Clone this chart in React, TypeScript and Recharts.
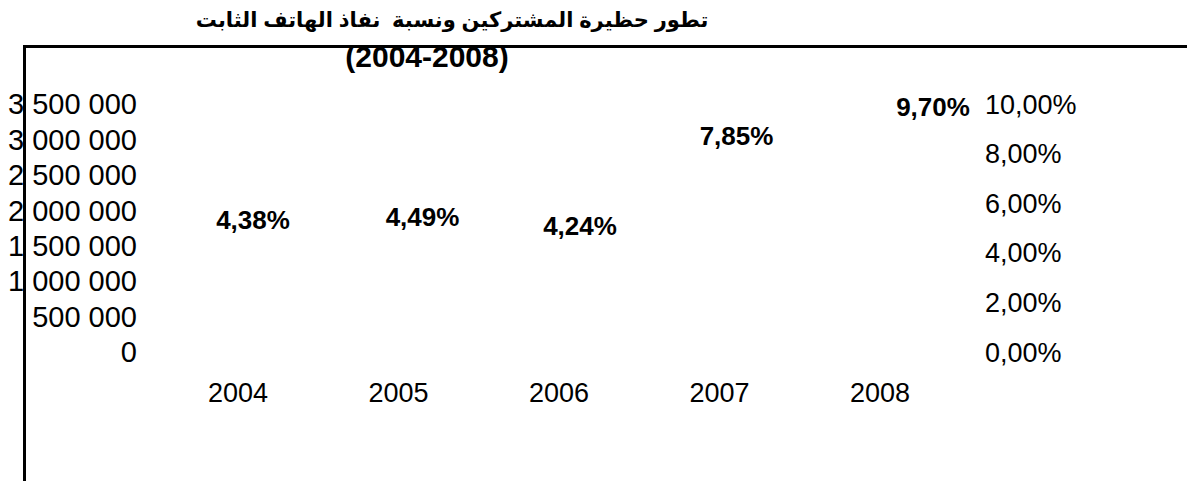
import React from 'react';
import { LineChart, Line, XAxis, YAxis, LabelList } from 'recharts';

const years = ['2004', '2005', '2006', '2007', '2008'];
const penetration = [4.38, 4.49, 4.24, 7.85, 9.7];
const subscriberTicks = [0, 500000, 1000000, 1500000, 2000000, 2500000, 3000000, 3500000];
const percentTicks = [0, 2, 4, 6, 8, 10];
const titleLine1 = 'تطور حظيرة المشتركين ونسبة  نفاذ الهاتف الثابت';
const titleLine2 = '(2004-2008)';

// label nudges (style only), relative to each computed point
const labelNudges = [
  { dx: 15, dy: -23 },
  { dx: 24, dy: -24 },
  { dx: 21, dy: -21 },
  { dx: 17, dy: -21 },
  { dx: 53, dy: -4 },
];

const data = years.map((y, i) => ({ year: y, pen: penetration[i] }));

const FONT = '"Liberation Sans", Arial, "DejaVu Sans", sans-serif';

const fmtSubs = (n: number) => String(n).replace(/\B(?=(\d{3})+(?!\d))/g, ' ');
const fmtPct = (v: number) => v.toFixed(2).replace('.', ',') + '%';

const renderLabel = (props: any) => {
  const { x, y, index, value } = props;
  const n = labelNudges[index] || { dx: 0, dy: -20 };
  return (
    <text
      x={x + n.dx}
      y={y + n.dy}
      textAnchor="middle"
      dominantBaseline="central"
      fontFamily={FONT}
      fontWeight="bold"
      fontSize={26}
      fill="#000"
    >
      {fmtPct(Number(value))}
    </text>
  );
};

export default function App() {
  return (
    <div
      style={{
        position: 'absolute',
        left: 0,
        top: 0,
        width: 1187,
        height: 481,
        overflow: 'hidden',
        background: '#fff',
        fontFamily: FONT,
      }}
    >
      <LineChart
        width={1187}
        height={481}
        data={data}
        margin={{ top: 104, right: 0, bottom: 89, left: 0 }}
      >
        <XAxis
          dataKey="year"
          height={40}
          padding={{ left: 80, right: 80 }}
          axisLine={false}
          tickLine={false}
          tickSize={0}
          tickMargin={31}
          tick={{ fill: '#000', fontSize: 27, fontFamily: FONT }}
        />
        <YAxis
          yAxisId="left"
          orientation="left"
          width={158}
          domain={[0, 3500000]}
          ticks={subscriberTicks}
          tickFormatter={fmtSubs}
          axisLine={false}
          tickLine={false}
          tickSize={0}
          tickMargin={21}
          interval={0}
          allowDataOverflow
          tick={{ fill: '#000', fontSize: 29, fontFamily: FONT }}
        />
        <YAxis
          yAxisId="right"
          orientation="right"
          width={227}
          domain={[0, 10]}
          ticks={percentTicks}
          tickFormatter={fmtPct}
          axisLine={false}
          tickLine={false}
          tickSize={0}
          tickMargin={25}
          interval={0}
          tick={{ fill: '#000', fontSize: 27, fontFamily: FONT, textAnchor: 'start' }}
        />
        <Line
          yAxisId="left"
          dataKey="subs"
          stroke="none"
          dot={false}
          activeDot={false}
          legendType="none"
          isAnimationActive={false}
        />
        <Line
          yAxisId="right"
          dataKey="pen"
          stroke="none"
          dot={false}
          activeDot={false}
          isAnimationActive={false}
        >
          <LabelList dataKey="pen" content={renderLabel} />
        </Line>
      </LineChart>
      <div
        style={{
          position: 'absolute',
          left: 23,
          top: 45,
          width: 3,
          height: 436,
          background: '#000',
        }}
      />
      <div
        style={{
          position: 'absolute',
          left: 23,
          top: 45,
          width: 1164,
          height: 3,
          background: '#000',
        }}
      />
      <div
        style={{
          position: 'absolute',
          left: 152,
          width: 600,
          top: 4,
          height: 32,
          lineHeight: '32px',
          textAlign: 'center',
          direction: 'rtl',
          whiteSpace: 'pre',
          fontWeight: 'bold',
          fontSize: 21,
          color: '#000',
        }}
      >
        {titleLine1}
      </div>
      <div
        style={{
          position: 'absolute',
          left: 227,
          width: 400,
          top: 40,
          height: 34,
          lineHeight: '34px',
          textAlign: 'center',
          whiteSpace: 'pre',
          fontWeight: 'bold',
          fontSize: 30,
          color: '#000',
        }}
      >
        {titleLine2}
      </div>
    </div>
  );
}
